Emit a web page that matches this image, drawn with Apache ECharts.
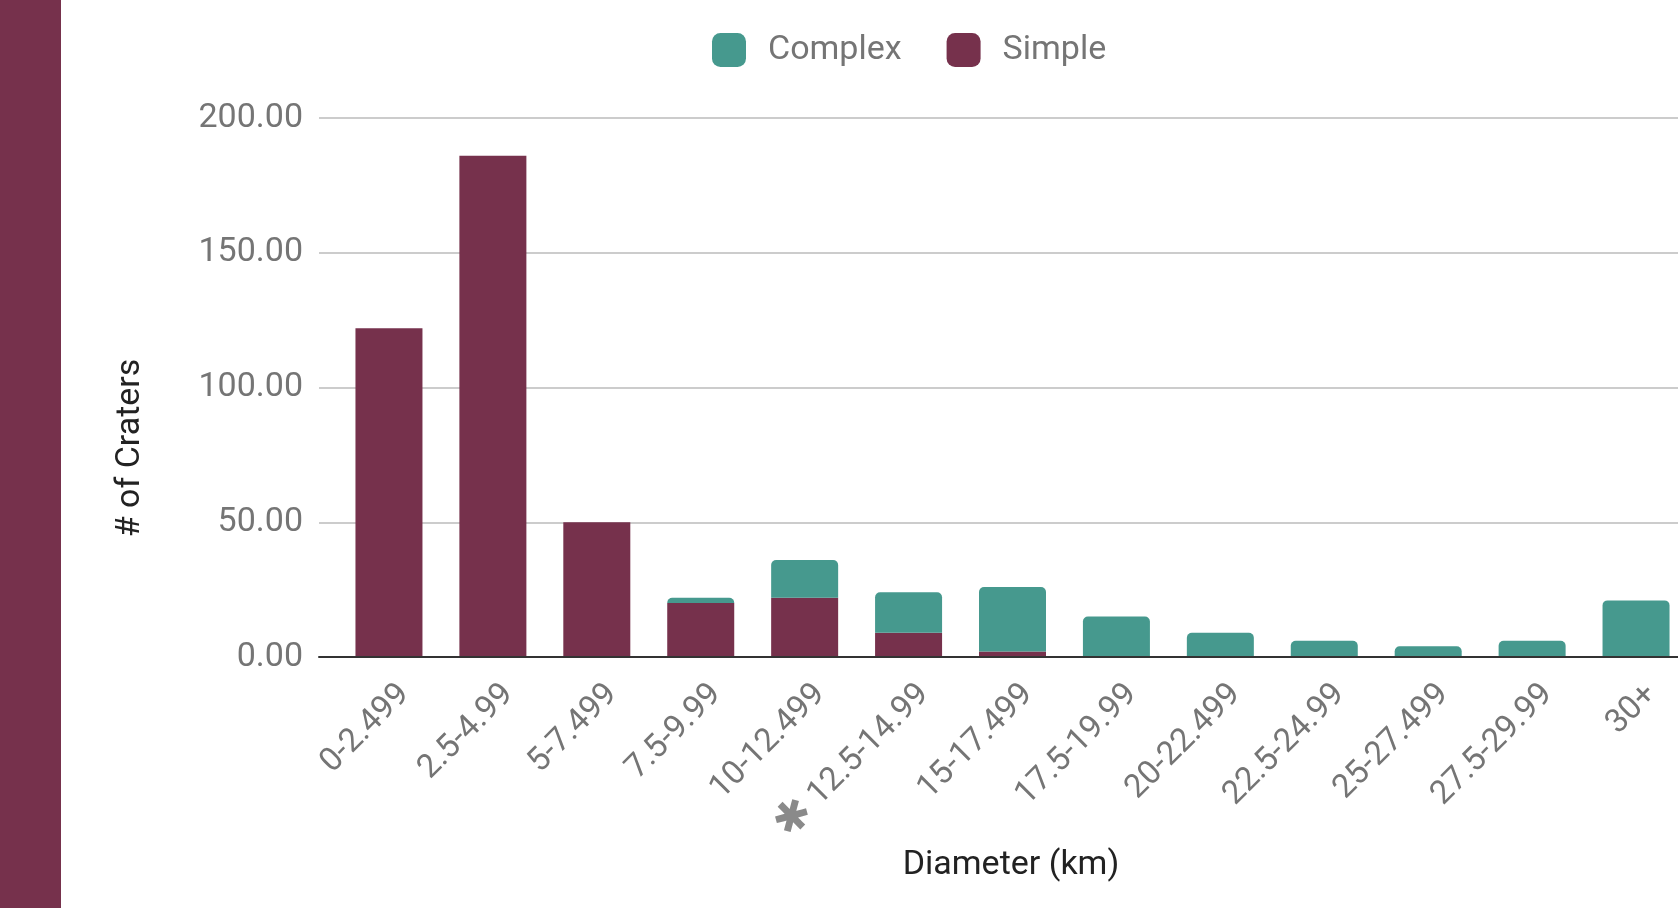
<!DOCTYPE html>
<html>
<head>
<meta charset="utf-8">
<title>Crater diameters</title>
<script src="https://cdn.jsdelivr.net/npm/echarts@6/dist/echarts.min.js"></script>
<style>
  html, body { margin: 0; padding: 0; background: #ffffff; }
  #chart { width: 1678px; height: 908px; }
</style>
</head>
<body>
<div id="chart"></div>
<script>
// Diameter bins (km)
const categories = ['0-2.499', '2.5-4.99', '5-7.499', '7.5-9.99', '10-12.499', '12.5-14.99',
  '15-17.499', '17.5-19.99', '20-22.499', '22.5-24.99', '25-27.499', '27.5-29.99', '30+'];
// Crater counts per bin
const simpleCounts  = [122, 186, 50, 20, 22, 9, 2, 0, 0, 0, 0, 0, 0];
const complexCounts = [0, 0, 0, 2, 14, 15, 24, 15, 9, 6, 4, 6, 21];
// Bin that carries the footnote marker
const markedBin = '12.5-14.99';
// Count axis range
const yMin = 0, yMax = 200, yStep = 50;

const MAROON = '#76314c';
const TEAL = '#46998e';
const FONT = 'Roboto, "Noto Sans", sans-serif';

const chart = echarts.init(document.getElementById('chart'), null, { renderer: 'canvas' });

// Two grids share the same vertical extent: the first carries the count scale,
// its gridlines and the baseline; the second holds the bars and bin labels.
const TOP = 118, BOTTOM = 251;

chart.setOption({
  animation: false,
  backgroundColor: '#ffffff',
  textStyle: { fontFamily: FONT },
  graphic: [
    {
      type: 'rect',
      left: 0, top: 0,
      shape: { width: 61, height: 908 },
      style: { fill: MAROON },
      silent: true
    },
    {
      type: 'text',
      x: 130, y: 448,
      rotation: Math.PI / 2,
      style: {
        text: '# of Craters',
        fontSize: 34,
        fontFamily: FONT,
        fill: '#222222',
        align: 'center',
        verticalAlign: 'middle'
      },
      silent: true
    }
  ],
  legend: {
    data: ['Complex', 'Simple'],
    left: 707,
    top: 28,
    itemWidth: 34,
    itemHeight: 34,
    itemGap: 45,
    icon: 'roundRect',
    textStyle: { fontSize: 34, color: '#757575', fontFamily: FONT, padding: [0, 0, 0, 17] }
  },
  grid: [
    { left: 319, right: 0, top: TOP, bottom: BOTTOM, containLabel: false, outerBoundsMode: 'none' },
    { left: 337, right: -10, top: TOP, bottom: BOTTOM, containLabel: false, outerBoundsMode: 'none' }
  ],
  xAxis: [
    {
      gridIndex: 0,
      type: 'value',
      min: 0, max: 1,
      z: 3,
      name: 'Diameter (km)',
      nameLocation: 'middle',
      nameGap: 191,
      nameTextStyle: { fontSize: 34, color: '#222222', fontFamily: FONT, padding: [0, 0, 0, 25] },
      splitLine: { show: false },
      axisTick: { show: false },
      axisLabel: { show: false },
      axisLine: { show: true, onZero: false, lineStyle: { color: '#333333', width: 2 } }
    },
    {
      gridIndex: 1,
      type: 'category',
      data: categories,
      axisLine: { show: false },
      axisTick: { show: false },
      splitLine: { show: false },
      axisLabel: {
        interval: 0,
        rotate: 45,
        margin: 17,
        padding: [44, 0, 0, 0],
        fontSize: 33,
        color: '#757575',
        fontFamily: FONT,
        formatter: name => name === markedBin ? '{ast|✱} ' + name : name,
        rich: {
          ast: { fontSize: 44, color: '#8a8a8a', fontFamily: '"DejaVu Sans"' }
        }
      }
    }
  ],
  yAxis: [
    {
      gridIndex: 0,
      type: 'value',
      min: yMin,
      max: yMax,
      interval: yStep,
      axisLine: { show: false },
      axisTick: { show: false },
      axisLabel: {
        margin: 16,
        fontSize: 34,
        color: '#757575',
        fontFamily: FONT,
        formatter: v => v.toFixed(2)
      },
      splitLine: { lineStyle: { color: '#cccccc', width: 2 } }
    },
    {
      gridIndex: 1,
      type: 'value',
      min: yMin,
      max: yMax,
      interval: yStep,
      axisLine: { show: false },
      axisTick: { show: false },
      axisLabel: { show: false },
      splitLine: { show: false }
    }
  ],
  series: [
    {
      name: 'Simple',
      type: 'bar',
      xAxisIndex: 1,
      yAxisIndex: 1,
      stack: 'craters',
      barWidth: 67,
      itemStyle: { color: MAROON },
      data: simpleCounts
    },
    {
      name: 'Complex',
      type: 'bar',
      xAxisIndex: 1,
      yAxisIndex: 1,
      stack: 'craters',
      barWidth: 67,
      itemStyle: { color: TEAL, borderRadius: [5, 5, 0, 0] },
      data: complexCounts
    }
  ]
});
</script>
</body>
</html>
